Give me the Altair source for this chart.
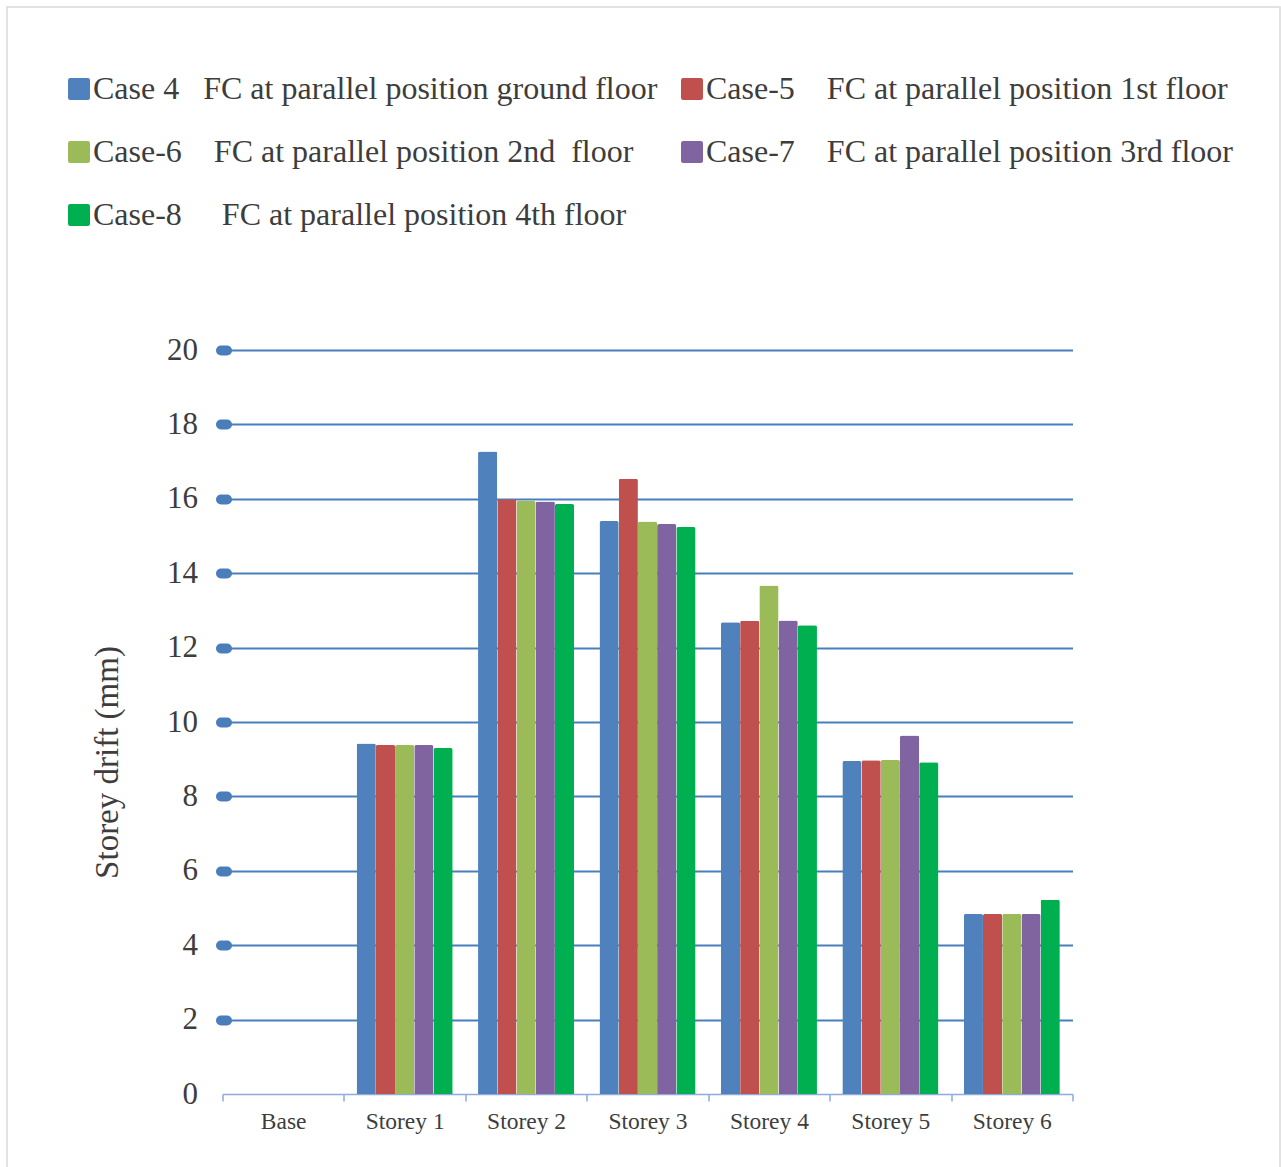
import altair as alt
import pandas as pd

# Storey drift (mm) per storey for each fire-compartment (FC) case
storeys = ["Base", "Storey 1", "Storey 2", "Storey 3", "Storey 4", "Storey 5", "Storey 6"]

case_ids = ["Case 4", "Case-5", "Case-6", "Case-7", "Case-8"]
case_desc = [
    "FC at parallel position ground floor",
    "FC at parallel position 1st floor",
    "FC at parallel position 2nd\u00a0 floor",
    "FC at parallel position 3rd floor",
    "FC at parallel position 4th floor",
]
# gap between the case id and its description in the legend
case_gap = [3, 4, 4, 4, 5]

case4 = [0, 9.42, 17.27, 15.40, 12.68, 8.95, 4.84]
case5 = [0, 9.39, 15.99, 16.54, 12.72, 8.97, 4.84]
case6 = [0, 9.38, 15.94, 15.39, 13.67, 8.98, 4.84]
case7 = [0, 9.38, 15.93, 15.32, 12.73, 9.64, 4.84]
case8 = [0, 9.30, 15.86, 15.24, 12.60, 8.92, 5.22]

colors = ["#4F81BD", "#C0504D", "#9BBB59", "#8064A2", "#00B050"]
y_ticks = [0, 2, 4, 6, 8, 10, 12, 14, 16, 18, 20]

series_labels = [
    cid + "\u00a0" * gap + desc for cid, gap, desc in zip(case_ids, case_gap, case_desc)
]
series_values = [case4, case5, case6, case7, case8]

# the legend fills column by column: list cases 4, 6, 8 first, then 5, 7
legend_order = [0, 2, 4, 1, 3]
legend_domain = [series_labels[i] for i in legend_order]
legend_range = [colors[i] for i in legend_order]

rows = []
for label, vals in zip(series_labels, series_values):
    for storey, v in zip(storeys, vals):
        rows.append({"storey": storey, "series": label, "drift": v})
df = pd.DataFrame(rows)

FONT = "Liberation Serif"
TEXT = "#3d3d3d"
GRID = "#4A7EBB"
XAXIS = "#8FAADC"

# square with slightly rounded corners for the legend swatches
swatch = ("M -0.8 -1 L 0.8 -1 Q 1 -1 1 -0.8 L 1 0.8 Q 1 1 0.8 1 "
          "L -0.8 1 Q -1 1 -1 0.8 L -1 -0.8 Q -1 -1 -0.8 -1 Z")

bars = alt.Chart(df).mark_bar(cornerRadiusTopLeft=2, cornerRadiusTopRight=2).encode(
    x=alt.X(
        "storey:N",
        sort=storeys,
        title=None,
        scale=alt.Scale(paddingInner=0, paddingOuter=0),
        axis=alt.Axis(
            tickBand="extent",
            labelAngle=0,
            labelFont=FONT,
            labelFontSize=23.5,
            labelColor=TEXT,
            labelPadding=8,
            domainColor=XAXIS,
            domainWidth=1.5,
            tickColor=XAXIS,
            tickWidth=1.5,
            tickSize=7,
            grid=False,
        ),
    ),
    xOffset=alt.XOffset(
        "series:N",
        sort=series_labels,
        scale=alt.Scale(paddingOuter=0.66, paddingInner=0),
    ),
    y=alt.Y(
        "drift:Q",
        title="Storey drift (mm)",
        scale=alt.Scale(domain=[0, 20], nice=False),
        axis=alt.Axis(
            values=y_ticks,
            offset=-4,
            domain=False,
            grid=True,
            gridColor=alt.condition("datum.value === 0", alt.value("transparent"), alt.value(GRID)),
            gridWidth=2,
            ticks=True,
            tickColor=alt.condition("datum.value === 0", alt.value("transparent"), alt.value(GRID)),
            tickSize=6,
            tickWidth=10,
            tickCap="round",
            labelFont=FONT,
            labelFontSize=31,
            labelColor=TEXT,
            labelPadding=23,
            titleFont=FONT,
            titleFontSize=33,
            titleFontWeight="normal",
            titleColor=TEXT,
            titleAngle=-90,
            titleAlign="center",
            titleBaseline="middle",
            titleX=-119,
            titleY=412,
        ),
    ),
    color=alt.Color(
        "series:N",
        scale=alt.Scale(domain=legend_domain, range=legend_range),
        legend=alt.Legend(
            title=None,
            orient="none",
            legendX=-159.5,
            legendY=-277,
            columns=2,
            columnPadding=18,
            rowPadding=31,
            padding=0,
            symbolType=swatch,
            symbolSize=484,
            symbolStrokeWidth=0,
            labelFont=FONT,
            labelFontSize=32,
            labelColor=TEXT,
            labelOffset=alt.ExprRef(expr="-2"),
            labelLimit=2000,
        ),
    ),
)

# light frame around the whole figure
frame = alt.Chart(pd.DataFrame({"k": [0]})).mark_rect(
    fillOpacity=0, stroke="#d9d9d9", strokeWidth=1.5
).encode(
    x=alt.value(-215.5),
    x2=alt.value(1057.5),
    y=alt.value(-343),
    y2=alt.value(830),
)

chart = alt.layer(bars, frame).properties(
    width=850,
    height=744,
    autosize=alt.AutoSizeParams(type="none"),
    padding={"left": 222.5, "top": 350, "right": 208.5, "bottom": 73},
    background="white",
).configure_view(stroke="transparent")

chart.save("out.html", embed_options={"renderer": "svg", "actions": False})
